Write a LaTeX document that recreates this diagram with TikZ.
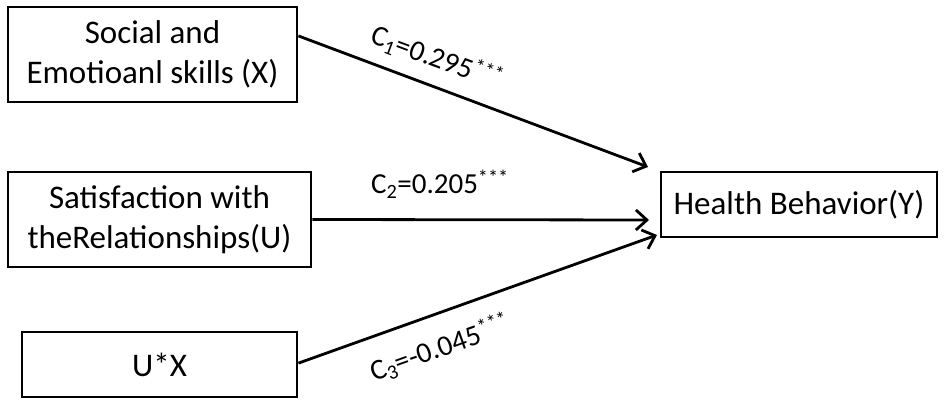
\documentclass[tikz,border=0pt]{standalone}
\usepackage{fontspec}
\setmainfont{Carlito}
\usetikzlibrary{arrows.meta,calc}
\begin{document}
\begin{tikzpicture}[x=1pt,y=-1pt,
  box/.style={draw, line width=2.8pt, inner sep=0pt, font=\fontsize{33}{40}\selectfont, align=center},
  conn/.style={line width=2.8pt, -{Straight Barb[length=11pt,width=20pt,line width=2.8pt]}},
  lab/.style={font=\fontsize{29}{34}\selectfont, inner sep=0pt}]
\useasboundingbox (0,0) rectangle (945,411);
\node[box, minimum width=289pt, minimum height=95pt] (x) at (152.5,54.5) {Social and\\Emotioanl skills (X)};
\node[box, minimum width=303pt, minimum height=95pt] (u) at (159.5,219.5) {Satisfaction with\\theRelationships(U)};
\node[box, minimum width=275pt, minimum height=65pt] (ux) at (159.5,364.5) {U*X};
\node[box, minimum width=276pt, minimum height=65pt] (y) at (799,204.5) {Health Behavior(Y)};
\coordinate (e1) at (648,167);
\coordinate (e2) at (649,220);
\coordinate (e3) at (657,235);
\draw[conn] ($(x.north east)!0.31!(x.south east)$) -- (e1);
\draw[conn] (u.east) -- (e2);
\draw[conn] ($(ux.north east)!0.48!(ux.south east)$) -- (e3);
\node[lab, rotate=-20.4] (l1) at (437,58) {C\textsubscript{1}=0.295\textsuperscript{***}};
\node[lab] (l2) at (440,184) {C\textsubscript{2}=0.205\textsuperscript{***}};
\node[lab, rotate=19.6] (l3) at (440,348) {C\textsubscript{3}=-0.045\textsuperscript{***}};
\end{tikzpicture}
\end{document}
